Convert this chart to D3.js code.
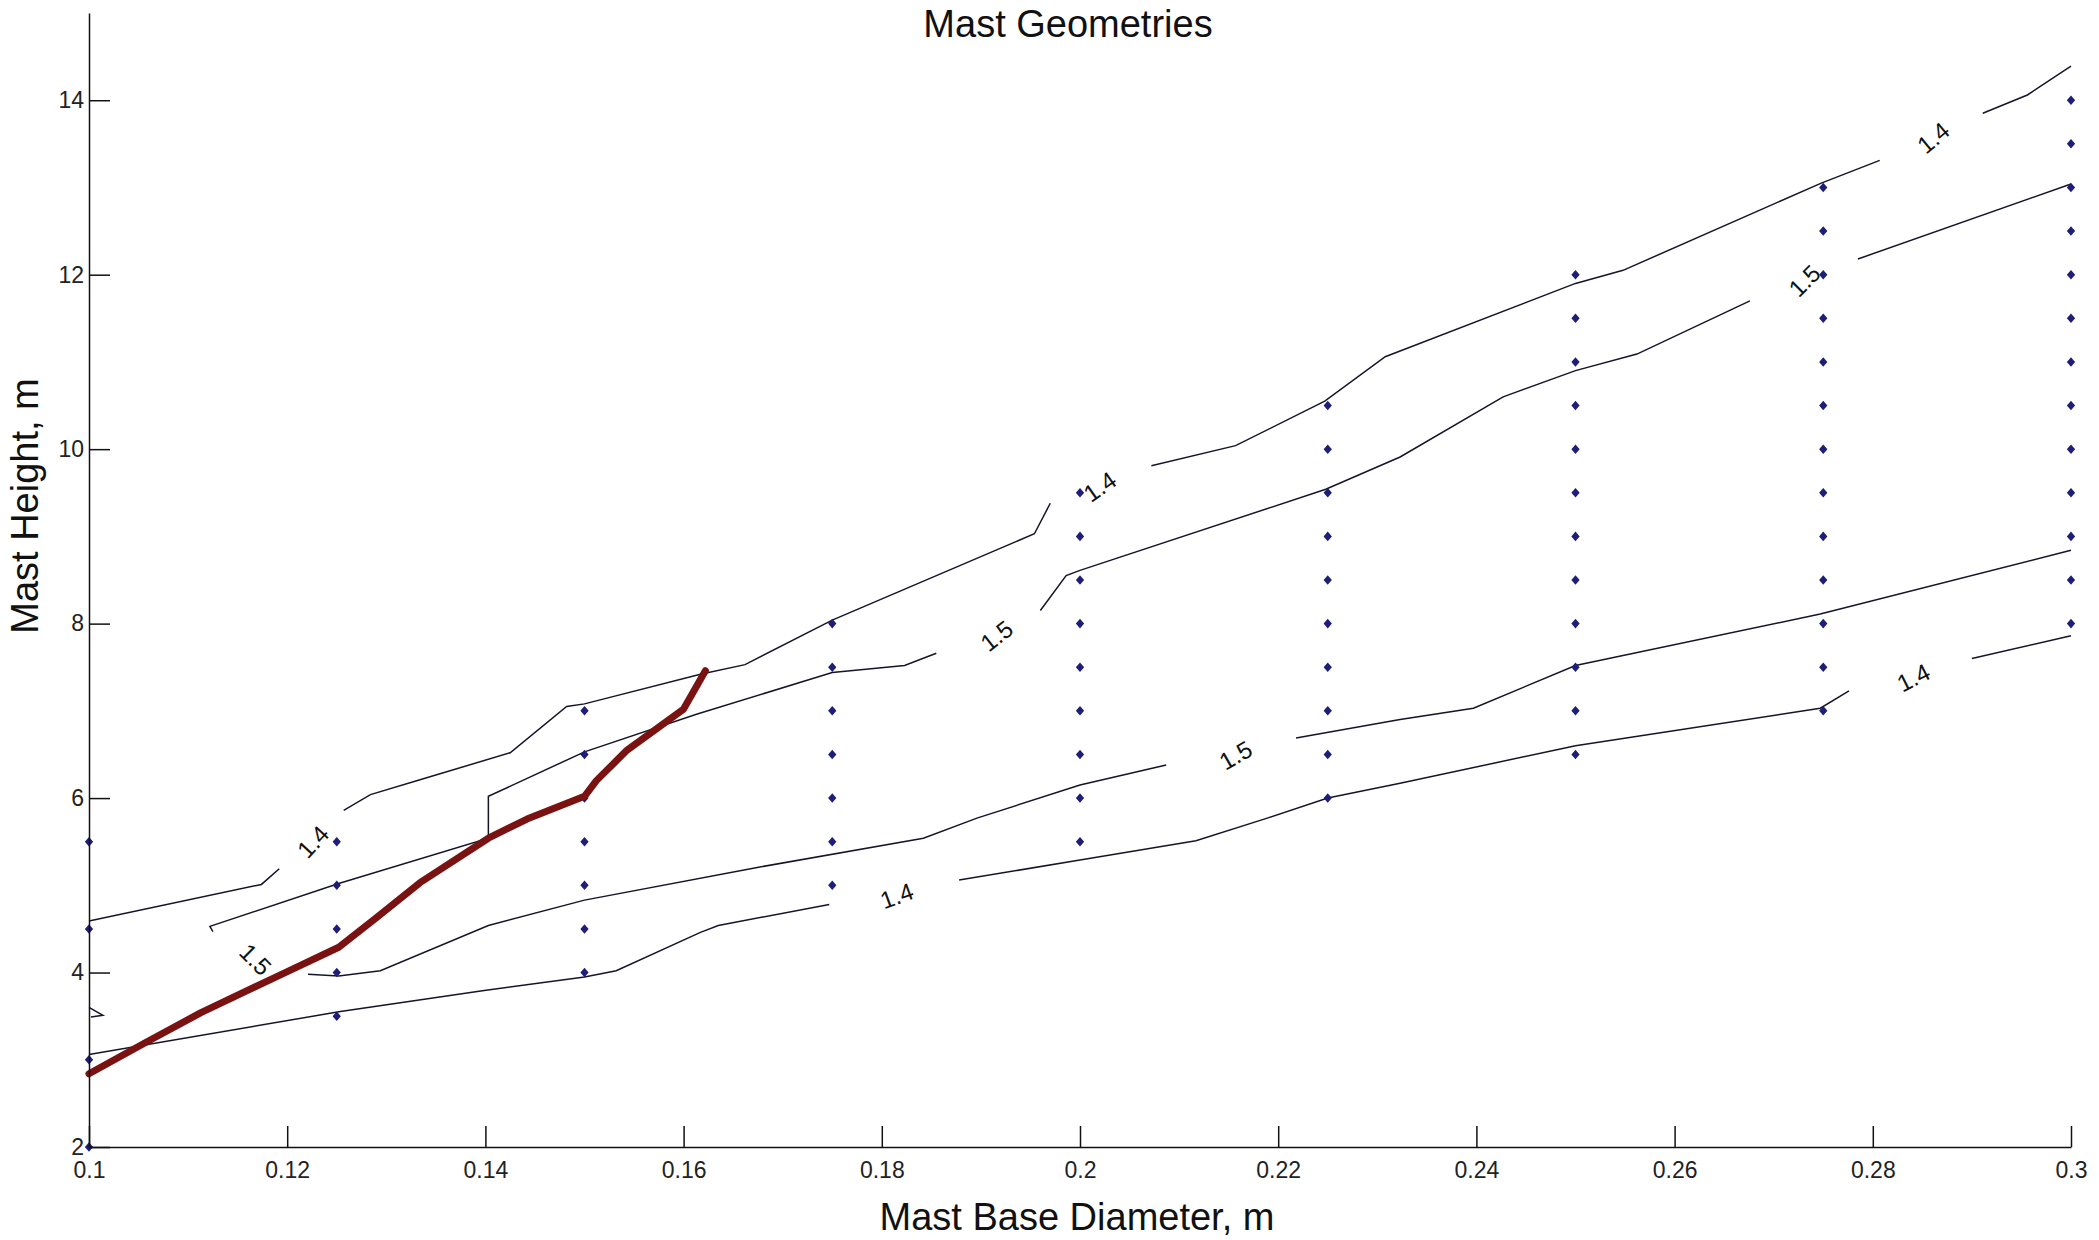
<!DOCTYPE html>
<html lang="en">
<head>
  <meta charset="UTF-8">
  <title>Mast Geometries</title>
  <script src="https://cdnjs.cloudflare.com/ajax/libs/d3/7.8.5/d3.min.js"></script>
  <style>
    body {
      margin: 0;
      background: white;
    }
    svg {
      display: block;
      background: white;
      font-family: "Liberation Sans", Arial, sans-serif;
    }
    .axis path, .axis line {
      stroke: #111;
      stroke-width: 1.5;
    }
    .axis text {
      font-family: "Liberation Sans", Arial, sans-serif;
      font-size: 23px;
      fill: #222;
    }
    .contour {
      fill: none;
      stroke: #15152a;
      stroke-width: 1.5;
    }
    .design {
      fill: none;
      stroke: #7a1212;
      stroke-width: 7;
      stroke-linejoin: round;
      stroke-linecap: round;
    }
    .clabel {
      font-size: 24px;
      fill: #111;
      text-anchor: middle;
      dominant-baseline: central;
    }
    .title, .label {
      font-size: 38px;
      fill: #111;
      text-anchor: middle;
    }
  </style>
</head>
<body>
  <script>
    // tick values
    var xTicks = [0.1, 0.12, 0.14, 0.16, 0.18, 0.2, 0.22, 0.24, 0.26, 0.28, 0.3];
    var yTicks = [2, 4, 6, 8, 10, 12, 14];

    // evaluated geometries: base diameter columns and the heights tried at each
    var diameters = [0.1, 0.125, 0.15, 0.175, 0.2, 0.225, 0.25, 0.275, 0.3];
    var heights = [
      [2, 3, 4.5, 5.5],
      [3.5, 4, 4.5, 5, 5.5],
      [4, 4.5, 5, 5.5, 6, 6.5, 7],
      [5, 5.5, 6, 6.5, 7, 7.5, 8],
      [5.5, 6, 6.5, 7, 7.5, 8, 8.5, 9, 9.5],
      [6, 6.5, 7, 7.5, 8, 8.5, 9, 9.5, 10, 10.5],
      [6.5, 7, 7.5, 8, 8.5, 9, 9.5, 10, 10.5, 11, 11.5, 12],
      [7, 7.5, 8, 8.5, 9, 9.5, 10, 10.5, 11, 11.5, 12, 12.5, 13],
      [8, 8.5, 9, 9.5, 10, 10.5, 11, 11.5, 12, 12.5, 13, 13.5, 14]
    ];

    // contour lines (pieces between the inline labels), [diameter, height]
    var upper14 = [
      [[0.1, 4.59], [0.1174, 5.01], [0.1192, 5.19]],
      [[0.1257, 5.86], [0.1284, 6.04], [0.1334, 6.21], [0.1425, 6.52], [0.1482, 7.05], [0.15, 7.08],
       [0.1617, 7.42], [0.1662, 7.53], [0.175, 8.04], [0.1954, 9.03], [0.197, 9.38]],
      [[0.2072, 9.81], [0.2157, 10.04], [0.2247, 10.55], [0.2308, 11.06], [0.25, 11.9], [0.2548, 12.05],
       [0.2748, 13.05], [0.2807, 13.31]],
      [[0.2911, 13.85], [0.2956, 14.06], [0.3, 14.39]]
    ];
    var upper15 = [
      [[0.1125, 4.47], [0.1122, 4.53], [0.1252, 5.02], [0.1403, 5.54], [0.1403, 6.02], [0.15, 6.53],
       [0.1613, 6.96], [0.175, 7.44], [0.1823, 7.52], [0.1855, 7.66]],
      [[0.196, 8.15], [0.1986, 8.55], [0.2, 8.61], [0.2248, 9.54], [0.2323, 9.91], [0.2427, 10.6],
       [0.25, 10.9], [0.2562, 11.09], [0.2676, 11.7]],
      [[0.2785, 12.18], [0.3, 13.04]]
    ];
    var lower15 = [
      [[0.1221, 3.98], [0.1252, 3.96], [0.1294, 4.02], [0.1403, 4.54], [0.15, 4.83], [0.1677, 5.21],
       [0.1842, 5.54], [0.1896, 5.77], [0.2, 6.15], [0.2087, 6.38]],
      [[0.2218, 6.69], [0.2323, 6.9], [0.2397, 7.03], [0.25, 7.52], [0.2747, 8.11], [0.3, 8.84]]
    ];
    var lower14 = [
      [[0.1, 3.06], [0.1252, 3.55], [0.1397, 3.79], [0.15, 3.95], [0.1532, 4.02], [0.1617, 4.46],
       [0.1635, 4.54], [0.1747, 4.78]],
      [[0.1878, 5.06], [0.2, 5.29], [0.2117, 5.51], [0.2189, 5.77], [0.225, 6.0], [0.2323, 6.17],
       [0.25, 6.6], [0.2747, 7.03], [0.2776, 7.23]],
      [[0.29, 7.6], [0.3, 7.86]]
    ];
    var stray = [
      [[0.1, 3.6], [0.1014, 3.51], [0.1002, 3.49]]
    ];

    // chosen design curve (thick red)
    var design = [
      [0.1, 2.84], [0.1059, 3.21], [0.1113, 3.54], [0.1198, 4.0], [0.1252, 4.29], [0.1289, 4.62],
      [0.1334, 5.03], [0.1403, 5.54], [0.1442, 5.76], [0.15, 6.02], [0.1512, 6.2], [0.1543, 6.55],
      [0.16, 7.02], [0.1622, 7.46]
    ];

    // contour labels: [diameter, height, text, angle]
    var labels = [
      [0.1226, 5.5, "1.4", -47],
      [0.1168, 4.15, "1.5", 45],
      [0.1916, 7.86, "1.5", -38],
      [0.202, 9.57, "1.4", -35],
      [0.2157, 6.49, "1.5", -30],
      [0.1815, 4.88, "1.4", -20],
      [0.2841, 7.38, "1.4", -27],
      [0.2861, 13.57, "1.4", -40],
      [0.2731, 11.93, "1.5", -45]
    ];

    var w = 2099;
    var h = 1240;

    var svg = d3.select("body").append("svg")
      .attr("width", w)
      .attr("height", h);

    var x = d3.scaleLinear()
      .domain([0.1, 0.3])
      .range([89, 2071]);

    var y = d3.scaleLinear()
      .domain([2, 15])
      .range([1147, 13]);

    var line = d3.line()
      .x(function(d) { return x(d[0]); })
      .y(function(d) { return y(d[1]); });

    // contours
    var pieces = [].concat(upper14, upper15, lower15, lower14, stray);
    svg.selectAll(".contour")
      .data(pieces)
      .enter()
      .append("path")
      .classed("contour", true)
      .attr("d", line);

    // geometry points
    var pts = [];
    diameters.forEach(function(dm, i) {
      heights[i].forEach(function(hv) {
        pts.push([dm, hv]);
      });
    });

    var diamond = d3.symbol().type(d3.symbolDiamond2).size(44);
    svg.selectAll(".pt")
      .data(pts)
      .enter()
      .append("path")
      .classed("pt", true)
      .attr("d", diamond)
      .attr("fill", "#1e1e78")
      .attr("transform", function(d) {
        return "translate(" + x(d[0]) + "," + y(d[1]) + ") scale(1,1.15)";
      });

    // design curve
    svg.append("path")
      .datum(design)
      .classed("design", true)
      .attr("d", line);

    // contour labels
    svg.selectAll(".clabel")
      .data(labels)
      .enter()
      .append("text")
      .classed("clabel", true)
      .attr("transform", function(d) {
        return "translate(" + x(d[0]) + "," + y(d[1]) + ") rotate(" + d[3] + ")";
      })
      .text(function(d) { return d[2]; });

    // axes
    var xAxis = d3.axisBottom(x)
      .tickValues(xTicks)
      .tickSizeInner(-21)
      .tickSizeOuter(0)
      .tickPadding(15)
      .tickFormat(function(d) { return String(+d.toFixed(2)); });

    var yAxis = d3.axisLeft(y)
      .tickValues(yTicks)
      .tickSizeInner(-21)
      .tickSizeOuter(0)
      .tickPadding(5);

    svg.append("g")
      .classed("axis", true)
      .attr("transform", "translate(0," + y(2) + ")")
      .call(xAxis);

    svg.append("g")
      .classed("axis", true)
      .attr("transform", "translate(" + x(0.1) + ",0)")
      .call(yAxis);

    // titles
    svg.append("text")
      .classed("title", true)
      .attr("x", 1068)
      .attr("y", 37)
      .text("Mast Geometries");

    svg.append("text")
      .classed("label", true)
      .attr("x", 1077)
      .attr("y", 1230)
      .text("Mast Base Diameter, m");

    svg.append("text")
      .classed("label", true)
      .attr("transform", "translate(38,506) rotate(-90)")
      .text("Mast Height, m");
  </script>
</body>
</html>
